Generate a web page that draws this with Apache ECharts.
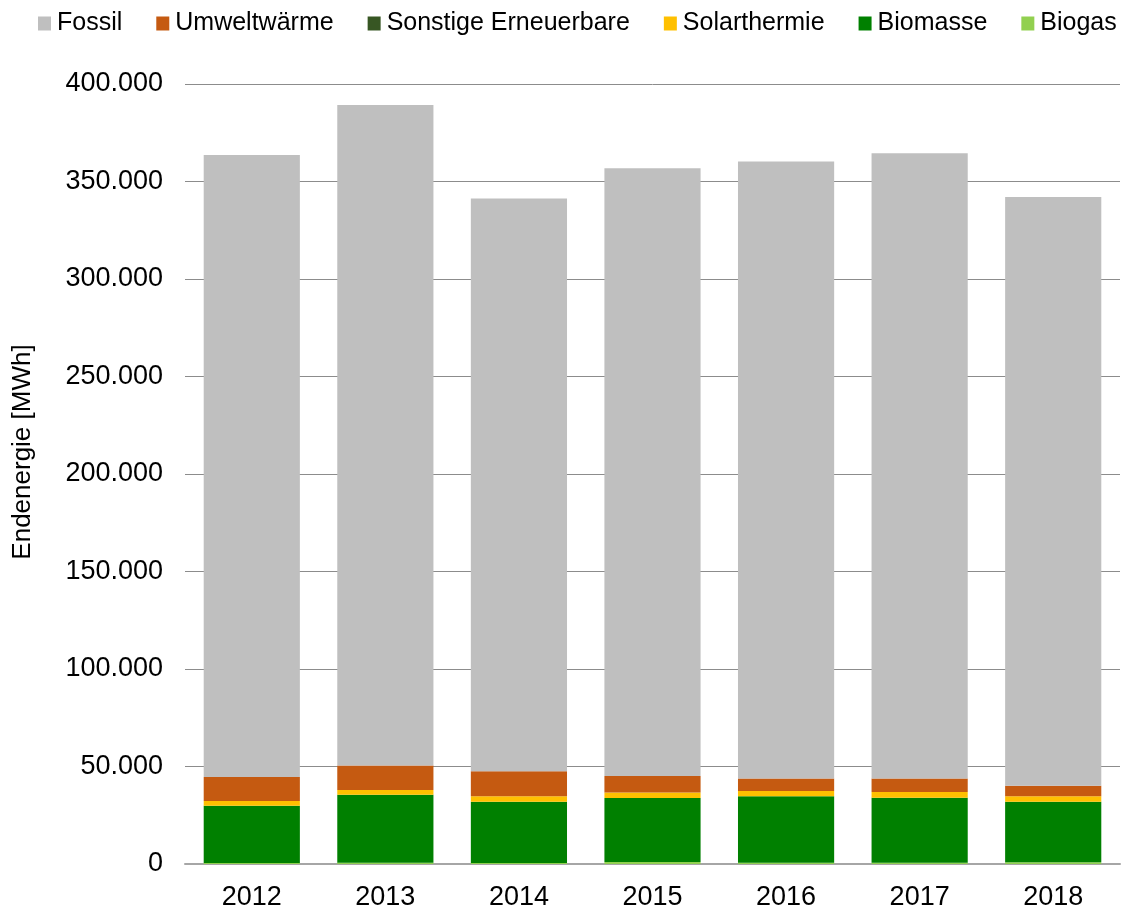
<!DOCTYPE html>
<html><head><meta charset="utf-8">
<script src="https://cdn.jsdelivr.net/npm/echarts@6/dist/echarts.min.js"></script>
<style>html,body{margin:0;padding:0;background:#fff}#c{width:1121px;height:911px}</style>
</head><body><div id="c"></div>
<script>
const years = ['2012','2013','2014','2015','2016','2017','2018'];
const biogas = [500, 600, 500, 1000, 600, 600, 900];
const biomasse = [29400, 34900, 31400, 32800, 34100, 33400, 31000];
const solarthermie = [2400, 2400, 2900, 2900, 2800, 2900, 2900];
const sonstige = [0, 0, 0, 0, 0, 0, 0];
const umweltwaerme = [12300, 12600, 12800, 8400, 6400, 7000, 5300];
const fossil = [319000, 338700, 293700, 311700, 316300, 320600, 302000];
const yTicks = [0, 50000, 100000, 150000, 200000, 250000, 300000, 350000, 400000];
const yTitle = 'Endenergie [MWh]';

const font = 'Liberation Sans, Arial, sans-serif';
const fmt = v => v === 0 ? '0' : String(v).replace(/\B(?=(\d{3})+(?!\d))/g, '.');
function s(name, data, color){
  return {name, type:'bar', stack:'a', data, barCategoryGap:'28%', itemStyle:{color}, emphasis:{disabled:true}};
}
const chart = echarts.init(document.getElementById('c'));
chart.setOption({
  animation:false,
  textStyle:{fontFamily:font},
  legend:{
    data:['Fossil','Umweltwärme','Sonstige Erneuerbare','Solarthermie','Biomasse','Biogas'],
    top:11, left:38, width:1100, padding:0, itemWidth:13, itemHeight:14, itemGap:34, icon:'rect',
    textStyle:{fontFamily:font, fontSize:25, color:'#000', padding:[0,0,0,1]}
  },
  grid:{left:185, right:1, top:84, bottom:46},
  xAxis:{type:'category', data:years,
    axisLine:{lineStyle:{color:'#a6a6a6', width:2}}, axisTick:{show:false},
    axisLabel:{fontSize:27, color:'#000', margin:20, fontFamily:font}},
  yAxis:{type:'value', min:yTicks[0], max:yTicks[yTicks.length-1], interval:yTicks[1]-yTicks[0],
    axisLine:{show:false}, axisTick:{show:false},
    splitLine:{lineStyle:{color:'#8c8c8c', width:1}},
    axisLabel:{fontSize:27, color:'#000', margin:22, formatter:fmt, fontFamily:font}},
  graphic:[{type:'text', x:23, y:452, rotation:Math.PI/2,
    style:{text:yTitle, fontSize:26, fontFamily:font, fill:'#000', align:'center', verticalAlign:'middle'}}],
  series:[
    s('Biogas', biogas, '#92D050'),
    s('Biomasse', biomasse, '#008000'),
    s('Solarthermie', solarthermie, '#FFC000'),
    s('Sonstige Erneuerbare', sonstige, '#375623'),
    s('Umweltwärme', umweltwaerme, '#C55A11'),
    s('Fossil', fossil, '#BFBFBF')
  ]
});
</script></body></html>
